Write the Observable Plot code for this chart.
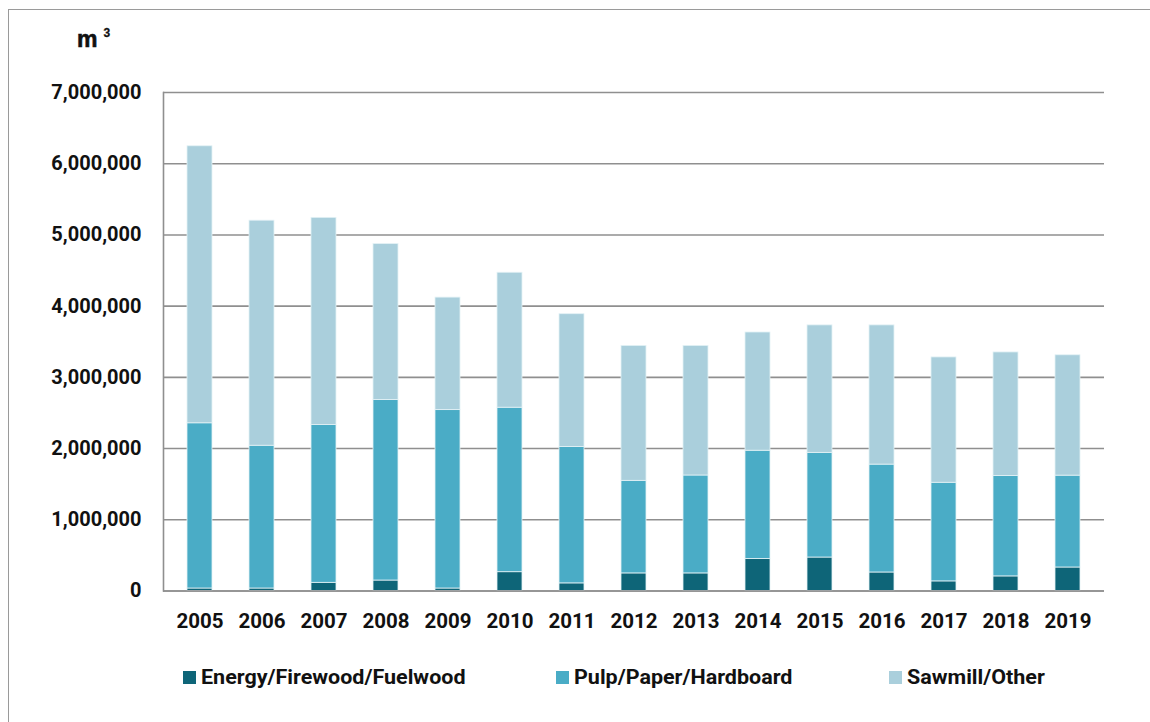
<!DOCTYPE html>
<html>
<head>
<meta charset="utf-8">
<script src="https://cdn.jsdelivr.net/npm/d3@7"></script>
<script src="https://cdn.jsdelivr.net/npm/@observablehq/plot@0.6"></script>
<style>
  body { margin: 0; background: #fff; }
  #wrap { position: relative; width: 1150px; height: 722px; overflow: hidden; font-family: Roboto, sans-serif; background:#fff; }
  #border { position: absolute; left: 8px; top: 9px; width: 1300px; height: 900px; border-left: 1.5px solid #9a9a9a; border-top: 1.5px solid #9a9a9a; }
  #unit { position: absolute; left: 77px; top: 26px; font: 900 23px "Liberation Sans", Arial, sans-serif; color: #111; -webkit-text-stroke: 0.6px #111; }
  #unit sup { font-size: 12px; position: relative; top: -1px; margin-left: 6px; -webkit-text-stroke: 0.3px #111; }
  #chart { position: absolute; left: 0; top: 0; }
  .item { position: absolute; top: 665px; height: 24px; display: flex; align-items: center; }
  .sw { width: 13px; height: 13px; margin-right: 5px; flex: none; }
  .lab { font: 700 20px Roboto, sans-serif; color: #111; white-space: nowrap; display: inline-block; transform-origin: left center; transform: scaleX(1.075); }
</style>
</head>
<body>
<div id="wrap">
  <div id="border"></div>
  <div id="unit">m<sup>3</sup></div>
  <div id="chart"></div>
  <div id="legend"></div>
</div>
<script>
const years = ["2005","2006","2007","2008","2009","2010","2011","2012","2013","2014","2015","2016","2017","2018","2019"];
const categories = ["Energy/Firewood/Fuelwood", "Pulp/Paper/Hardboard", "Sawmill/Other"];
const colors = ["#0e6578", "#4aacc6", "#aacfdc"];
const energy  = [35000, 35000, 115000, 147000, 35000, 264000, 107000, 247000, 247000, 450000, 470000, 260000, 135000, 205000, 330000];
const pulp    = [2320000, 2005000, 2215000, 2535000, 2505000, 2310000, 1915000, 1300000, 1375000, 1520000, 1470000, 1515000, 1385000, 1410000, 1290000];
const sawmill = [3890000, 3160000, 2910000, 2190000, 1580000, 1895000, 1865000, 1895000, 1820000, 1660000, 1790000, 1955000, 1760000, 1735000, 1690000];
const yTicks = [0, 1000000, 2000000, 3000000, 4000000, 5000000, 6000000, 7000000];

const series = [energy, pulp, sawmill];
const table = [];
years.forEach((yr, i) => {
  categories.forEach((c, k) => table.push({year: yr, cat: c, value: series[k][i]}));
});

const H = 650;
const chart = Plot.plot({
  width: 1150,
  height: H,
  marginLeft: 163,
  marginRight: 46,
  marginTop: 92,
  marginBottom: H - 590.5,
  style: { fontFamily: "Roboto, sans-serif", background: "transparent", overflow: "visible" },
  x: { domain: years, paddingInner: 0.6, paddingOuter: 0.3, label: null },
  y: { domain: [0, 7000000], label: null },
  color: { domain: categories, range: colors },
  marks: [
    Plot.gridY(yTicks, { stroke: "#8f8f8f", strokeOpacity: 1, strokeWidth: 1.6 }),
    Plot.barY(table, Plot.stackY({
      x: "year", y: "value", fill: "cat", order: categories,
      stroke: "#e4f2f6", strokeWidth: 0.8, insetLeft: 0, insetRight: 0
    })),
    Plot.ruleY([0], { stroke: "#8f8f8f", strokeWidth: 1.6 }),
    Plot.frame({ anchor: "left", stroke: "#8f8f8f", strokeWidth: 1.6 }),
    Plot.axisY(yTicks, {
      tickSize: 0, tickPadding: 22, tickFormat: d3.format(","),
      fontSize: 20, fontWeight: "bold", fill: "#111", label: null
    }),
    Plot.axisX({
      tickSize: 0, tickPadding: 22, fontSize: 20.5, fontWeight: "bold", fill: "#111", label: null
    })
  ]
});
document.getElementById("chart").appendChild(chart);

const legendLeft = [183, 556, 889];
const legend = document.getElementById("legend");
categories.forEach((c, k) => {
  const item = document.createElement("div");
  item.className = "item";
  item.style.left = legendLeft[k] + "px";
  const sw = document.createElement("div");
  sw.className = "sw";
  sw.style.background = colors[k];
  const lab = document.createElement("span");
  lab.className = "lab";
  lab.textContent = c;
  item.appendChild(sw);
  item.appendChild(lab);
  legend.appendChild(item);
});
</script>
</body>
</html>
